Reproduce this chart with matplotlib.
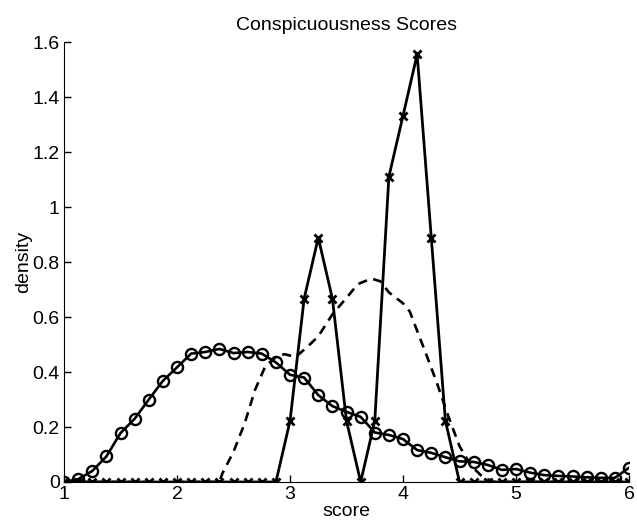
import matplotlib
matplotlib.use("Agg")
import matplotlib.pyplot as plt

plt.rcParams['font.family'] = ['Liberation Sans', 'DejaVu Sans']

# === DADOS ===
# grade comum das curvas com marcadores (passo 0.125)
x_grid = [1 + 0.125 * i for i in range(41)]

# curva com circulos
dens_circ = [0.0, 0.01, 0.04, 0.093, 0.178, 0.23, 0.30, 0.368, 0.417, 0.467,
             0.473, 0.484, 0.469, 0.473, 0.467, 0.435, 0.39, 0.38, 0.316, 0.276,
             0.255, 0.237, 0.18, 0.171, 0.156, 0.116, 0.106, 0.09, 0.075, 0.073,
             0.062, 0.044, 0.047, 0.034, 0.025, 0.022, 0.02, 0.017, 0.015, 0.015,
             0.052]

# histograma com x
dens_x = [0.0] * 16 + [0.222, 0.667, 0.889, 0.667, 0.222, 0.0, 0.222, 1.111,
                       1.333, 1.556, 0.889, 0.222] + [0.0] * 13

# curva tracejada
x_dash = [1.0, 2.375, 2.4, 2.5, 2.6, 2.69, 2.78, 2.875, 2.95, 3.05, 3.15,
          3.25, 3.375, 3.5, 3.6, 3.72, 3.8, 3.875, 4.0, 4.06, 4.125, 4.2, 4.3,
          4.4, 4.5, 4.6, 4.7, 4.8, 6.0]
dens_dash = [0.0, 0.0, 0.03, 0.11, 0.215, 0.335, 0.42, 0.455, 0.465, 0.455,
             0.49, 0.53, 0.61, 0.67, 0.72, 0.74, 0.73, 0.69, 0.65, 0.62, 0.55,
             0.47, 0.36, 0.24, 0.13, 0.06, 0.02, 0.0, 0.0]

y_ticks = [0, 0.2, 0.4, 0.6, 0.8, 1.0, 1.2, 1.4, 1.6]
y_labels = ['0', '0.2', '0.4', '0.6', '0.8', '1', '1.2', '1.4', '1.6']
x_ticks = [1, 2, 3, 4, 5, 6]

# === FIGURA ===
fig = plt.figure(figsize=(6.37, 5.26), dpi=100)
ax = fig.add_axes([0.1005, 0.0837, 0.887, 0.836])

ax.plot(x_dash, dens_dash, color='black', lw=1.9, ls=(0, (3.5, 2.5)))
ax.plot(x_grid, dens_circ, color='black', lw=1.9, marker='o', ms=8,
        mfc='none', mec='black', mew=1.7)
ax.plot(x_grid, dens_x, color='black', lw=2.0, marker='x', ms=5.5, mew=2.0)

ax.set_xlim(1, 6)
ax.set_ylim(0, 1.6)
ax.set_xticks(x_ticks)
ax.set_xticklabels([str(t) for t in x_ticks])
ax.set_yticks(y_ticks)
ax.set_yticklabels(y_labels)
ax.tick_params(direction='in', labelsize=14, length=5, width=1, pad=3)
ax.spines['top'].set_visible(False)
ax.spines['right'].set_visible(False)

ax.set_title("Conspicuousness Scores", fontsize=14, pad=9)
ax.set_xlabel("score", fontsize=14, labelpad=0)
ax.set_ylabel("density", fontsize=14, labelpad=0)

fig.savefig("out.png", dpi=100)
